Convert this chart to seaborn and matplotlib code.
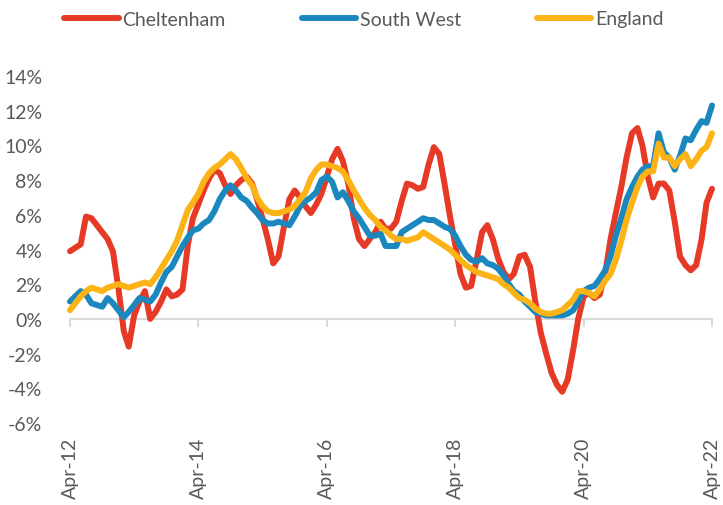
import numpy as np
import pandas as pd
import matplotlib
matplotlib.use("Agg")
import matplotlib.pyplot as plt
import matplotlib.dates as mdates
from matplotlib.ticker import FuncFormatter
import seaborn as sns

# monthly house price growth (% yoy), Apr-12 .. Apr-22
months = pd.date_range("2012-04-01", "2022-04-01", freq="MS")

cheltenham = [
    3.9, 4.1, 4.3, 5.9, 5.8, 5.4, 5.0, 4.6, 3.9, 1.8,
    -0.7, -1.6, 0.2, 1.0, 1.6, 0.0, 0.4, 1.0, 1.7, 1.3,
    1.4, 1.7, 4.3, 5.8, 6.6, 7.4, 8.1, 8.6, 8.4, 7.7,
    7.2, 7.7, 8.0, 8.2, 7.8, 6.9, 5.8, 4.6, 3.2, 3.6,
    5.3, 6.9, 7.4, 7.0, 6.5, 6.1, 6.6, 7.2, 8.2, 9.2,
    9.8, 9.1, 7.8, 5.8, 4.6, 4.2, 4.6, 5.0, 5.6, 5.2,
    5.2, 5.6, 6.8, 7.8, 7.7, 7.5, 7.6, 8.9, 9.9, 9.5,
    7.7, 6.0, 4.3, 2.6, 1.8, 1.9, 3.4, 5.0, 5.4, 4.6,
    3.5, 2.7, 2.3, 2.6, 3.6, 3.7, 3.0, 1.0, -0.8, -2.0,
    -3.1, -3.8, -4.2, -3.5, -1.8, 0.0, 1.3, 1.5, 1.2, 1.4,
    2.6, 4.6, 6.1, 7.6, 9.3, 10.7, 11.0, 10.0, 8.2, 7.0,
    7.8, 7.8, 7.4, 5.6, 3.6, 3.1, 2.8, 3.1, 4.6, 6.7,
    7.5,
]
south_west = [
    1.0, 1.3, 1.6, 1.4, 0.9, 0.8, 0.7, 1.2, 0.9, 0.5,
    0.1, 0.4, 0.8, 1.2, 1.1, 1.0, 1.4, 2.1, 2.7, 3.0,
    3.6, 4.2, 4.7, 5.1, 5.2, 5.5, 5.7, 6.2, 6.9, 7.4,
    7.7, 7.4, 7.0, 6.8, 6.4, 6.1, 5.7, 5.5, 5.5, 5.6,
    5.5, 5.4, 5.9, 6.5, 6.8, 7.0, 7.3, 8.0, 8.2, 7.9,
    7.0, 7.3, 6.8, 6.2, 5.8, 5.3, 4.8, 4.8, 4.9, 4.2,
    4.2, 4.2, 5.0, 5.2, 5.4, 5.6, 5.8, 5.7, 5.7, 5.5,
    5.3, 5.2, 4.8, 4.2, 3.7, 3.4, 3.3, 3.5, 3.2, 3.1,
    2.9, 2.5, 2.0, 1.6, 1.4, 1.0, 0.7, 0.4, 0.3, 0.2,
    0.2, 0.2, 0.2, 0.3, 0.5, 1.0, 1.6, 1.8, 1.9, 2.3,
    2.8, 3.6, 4.8, 5.8, 6.9, 7.6, 8.2, 8.6, 8.8, 8.8,
    10.7, 9.6, 9.3, 8.6, 9.4, 10.4, 10.3, 10.9, 11.4, 11.3,
    12.3,
]
england = [
    0.5, 0.9, 1.3, 1.6, 1.8, 1.7, 1.6, 1.8, 1.9, 2.0,
    1.9, 1.8, 1.9, 2.0, 2.1, 2.0, 2.4, 2.9, 3.4, 3.9,
    4.5, 5.4, 6.3, 6.7, 7.2, 7.9, 8.4, 8.7, 8.9, 9.2,
    9.5, 9.2, 8.7, 8.1, 7.7, 7.0, 6.5, 6.2, 6.1, 6.1,
    6.2, 6.3, 6.5, 6.9, 7.3, 8.1, 8.6, 8.9, 8.9, 8.8,
    8.7, 8.5, 8.0, 7.4, 6.9, 6.4, 6.0, 5.7, 5.3, 5.1,
    4.8, 4.6, 4.6, 4.5, 4.6, 4.7, 5.0, 4.8, 4.6, 4.4,
    4.2, 4.0, 3.7, 3.4, 3.1, 2.9, 2.7, 2.6, 2.5, 2.4,
    2.3, 2.0, 1.8, 1.5, 1.2, 1.1, 0.9, 0.6, 0.4, 0.3,
    0.3, 0.4, 0.5, 0.8, 1.1, 1.6, 1.6, 1.5, 1.3, 1.7,
    2.2, 2.6, 3.4, 4.5, 5.7, 6.7, 7.6, 8.2, 8.5, 8.5,
    10.1, 9.3, 9.3, 8.8, 9.2, 9.5, 8.8, 9.2, 9.7, 9.9,
    10.7,
]

series = ["Cheltenham", "South West", "England"]
colors = ["#E63A26", "#1B87BF", "#FBB316"]

df = pd.concat([
    pd.DataFrame({"date": months, "growth": vals, "area": name})
    for name, vals in zip(series, [cheltenham, south_west, england])
])

sns.set_style("white")
plt.rcParams["font.family"] = ["Lato", "DejaVu Sans"]
grey = "#595959"

fig = plt.figure(figsize=(7.23, 5.06), dpi=100)
ax = fig.add_axes([70 / 723, 1 - 424 / 506, 642 / 723, 347 / 506])

sns.lineplot(data=df, x="date", y="growth", hue="area", hue_order=series,
             palette=colors, linewidth=4.3, ax=ax, legend=True,
             solid_capstyle="round", clip_on=False)

ax.set_xlim(months[0], months[-1])
ax.set_ylim(-6, 14)
ax.set_yticks(np.arange(-6, 15, 2))
ax.yaxis.set_major_formatter(FuncFormatter(lambda v, p: f"{v:.0f}%"))
ax.tick_params(axis="y", length=0, pad=20, labelsize=14, labelcolor=grey)

xt = pd.date_range("2012-04-01", "2022-04-01", freq="24MS")
ax.set_xticks(xt)
ax.xaxis.set_major_formatter(mdates.DateFormatter("%b-%y"))
ax.tick_params(axis="x", length=0, pad=10, labelsize=14, labelcolor=grey,
               labelrotation=90)
ax.set_xlabel("")
ax.set_ylabel("")
for s in ax.spines.values():
    s.set_visible(False)

# zero line with year ticks
sec = ax.secondary_xaxis(6 / 20)
sec.set_xticks(xt)
sec.tick_params(axis="x", length=6, width=1.5, color="#D9D9D9",
                labelbottom=False, labeltop=False, direction="out")
for k, s in sec.spines.items():
    s.set_visible(k == "bottom")
sec.spines["bottom"].set_color("#D9D9D9")
sec.spines["bottom"].set_linewidth(1.5)
sec.set_zorder(0)
ax.set_zorder(1)
ax.patch.set_visible(False)

handles, labels = ax.get_legend_handles_labels()
ax.legend_.remove()
for h in handles:
    h.set_solid_capstyle("round")
fig.legend(handles, labels, loc="center", bbox_to_anchor=(364 / 723, 1 - 20 / 506),
           ncol=3, frameon=False, fontsize=14, labelcolor=grey,
           handlelength=2.8, handletextpad=0.2, columnspacing=3.9)

fig.savefig("out.png", dpi=100)
